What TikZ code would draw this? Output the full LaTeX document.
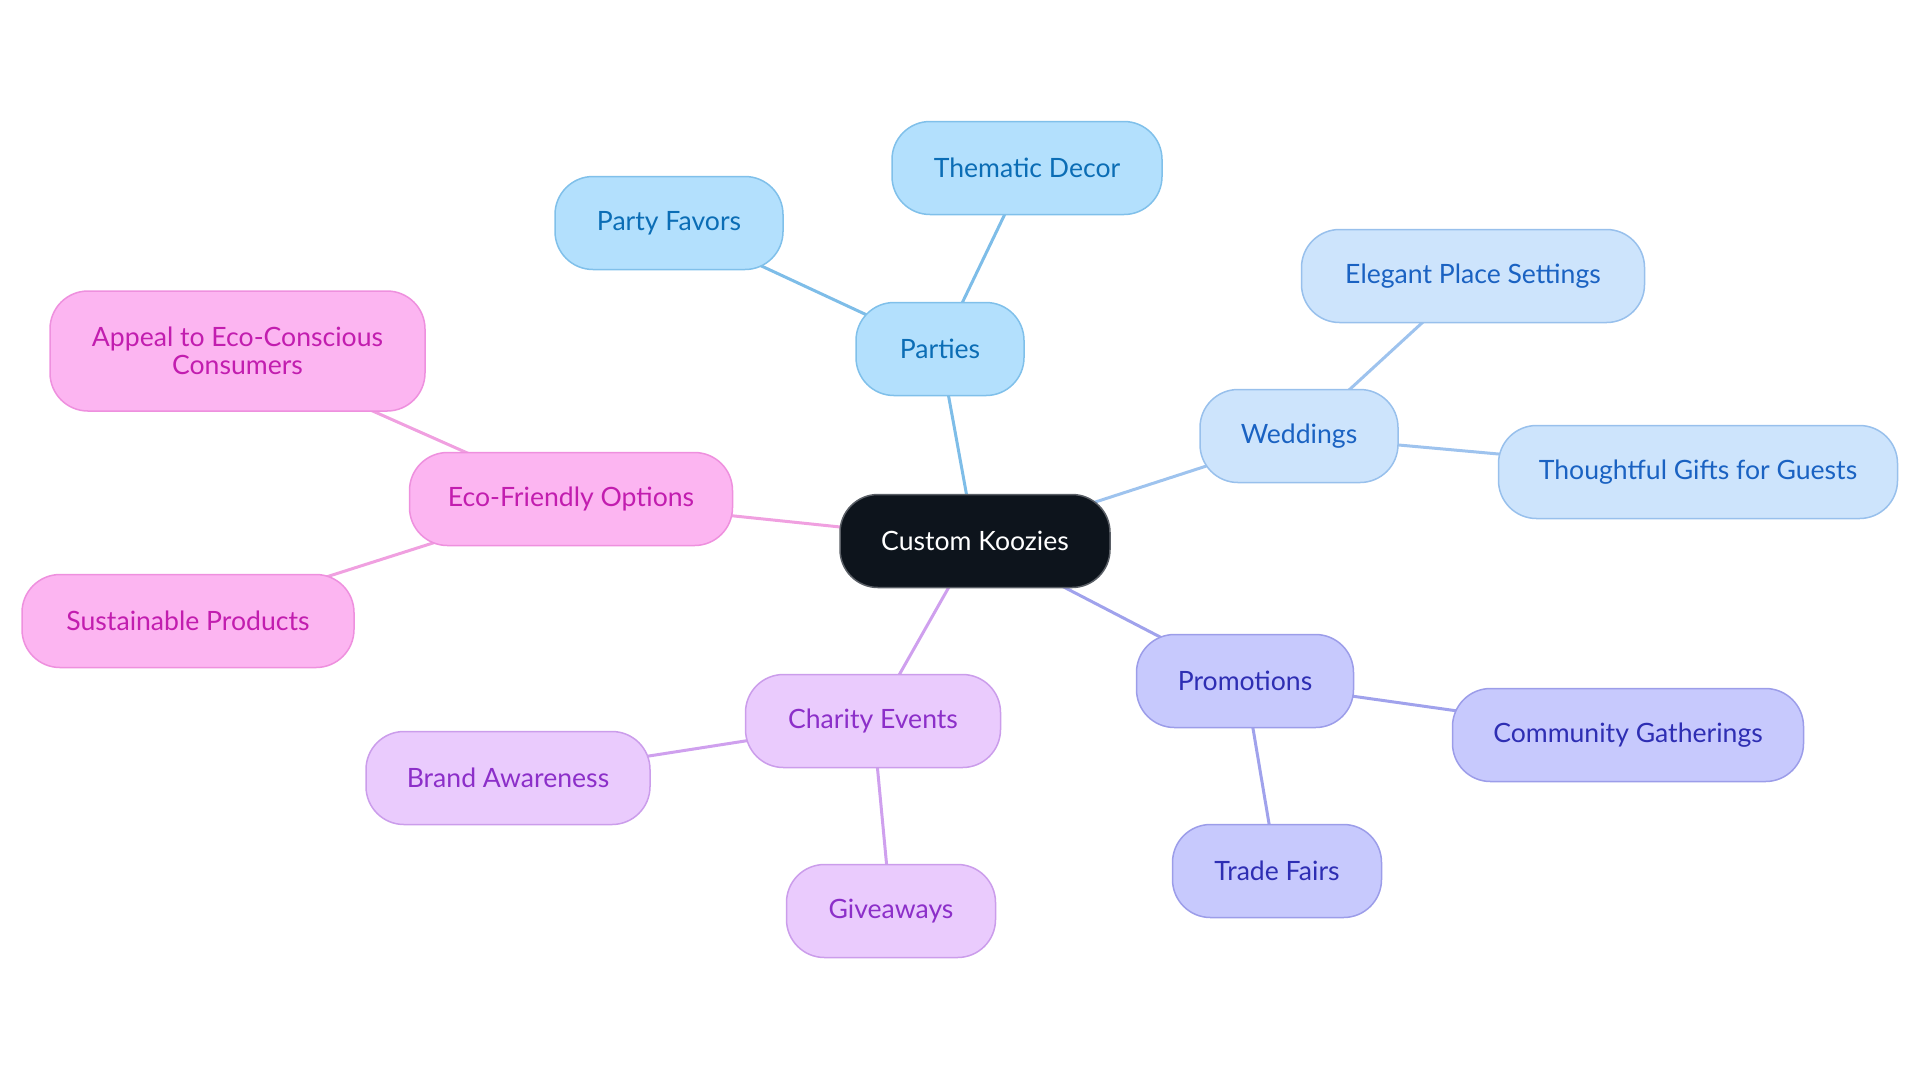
\documentclass[tikz,border=0pt]{standalone}
\usepackage{fontspec}
\setmainfont{Lato}
\usetikzlibrary{backgrounds}
\definecolor{rootfill}{HTML}{0D141C}
\definecolor{rootdraw}{HTML}{5A5F66}
\definecolor{pfill}{HTML}{B3E0FD}\definecolor{pdraw}{HTML}{80C0EA}\definecolor{ptext}{HTML}{0B6DB5}\definecolor{pline}{HTML}{7EBDE8}
\definecolor{wfill}{HTML}{CDE4FC}\definecolor{wdraw}{HTML}{98C0EC}\definecolor{wtext}{HTML}{1A62C2}\definecolor{wline}{HTML}{9EC3EE}
\definecolor{mfill}{HTML}{C7C9FD}\definecolor{mdraw}{HTML}{9C9DE9}\definecolor{mtext}{HTML}{2E2EB3}\definecolor{mline}{HTML}{A0A2EC}
\definecolor{cfill}{HTML}{EACBFD}\definecolor{cdraw}{HTML}{CB9DEB}\definecolor{ctext}{HTML}{8C2FC9}\definecolor{cline}{HTML}{CFA0EE}
\definecolor{efill}{HTML}{FCB5F1}\definecolor{edraw}{HTML}{EE90DE}\definecolor{etext}{HTML}{C21DAF}\definecolor{eline}{HTML}{F0A0E0}
\tikzset{
  box/.style={rounded corners=19pt, minimum height=46.5pt, line width=0.75pt, align=center, font=\fontsize{13.3}{13.8}\selectfont, inner sep=0pt},
  rootbox/.style={box, fill=rootfill, draw=rootdraw, text=white},
  pbox/.style={box, fill=pfill, draw=pdraw, text=ptext},
  wbox/.style={box, fill=wfill, draw=wdraw, text=wtext},
  mbox/.style={box, fill=mfill, draw=mdraw, text=mtext},
  cbox/.style={box, fill=cfill, draw=cdraw, text=ctext},
  ebox/.style={box, fill=efill, draw=edraw, text=etext},
  link/.style={line width=1.5pt}
}
\begin{document}
\begin{tikzpicture}[x=0.5pt,y=-0.5pt]
\useasboundingbox (0,0) rectangle (1920,1083);
\node[rootbox, minimum width=135pt] (root) at (975,541) {Custom Koozies};
\node[pbox, minimum width=84pt] (parties) at (940,349) {Parties};
\node[pbox, minimum width=135pt] (thematic) at (1027,168) {Thematic Decor};
\node[pbox, minimum width=114pt] (favors) at (669,223) {Party Favors};
\node[wbox, minimum width=99pt] (weddings) at (1299,436) {Weddings};
\node[wbox, minimum width=171.5pt] (elegant) at (1473,276) {Elegant Place Settings};
\node[wbox, minimum width=199.5pt] (gifts) at (1698,472) {Thoughtful Gifts for Guests};
\node[mbox, minimum width=108.5pt] (promo) at (1245,681) {Promotions};
\node[mbox, minimum width=175.5pt] (community) at (1628,735) {Community Gatherings};
\node[mbox, minimum width=104.5pt] (trade) at (1277,871) {Trade Fairs};
\node[cbox, minimum width=127.5pt] (charity) at (873,721) {Charity Events};
\node[cbox, minimum width=142pt] (brand) at (508,778) {Brand Awareness};
\node[cbox, minimum width=104.5pt] (give) at (891,911) {Giveaways};
\node[ebox, minimum width=161.5pt] (eco) at (571,499) {Eco-Friendly Options};
\node[ebox, minimum width=187.5pt, minimum height=60pt] (appeal) at (237.5,351) {Appeal to Eco-Conscious\\Consumers};
\node[ebox, minimum width=166pt] (sust) at (188,621) {Sustainable Products};
\begin{scope}[on background layer]
\draw[link, pline] (root.center) -- (parties.center);
\draw[link, pline] (parties.center) -- (thematic.center);
\draw[link, pline] (parties.center) -- (favors.center);
\draw[link, wline] (root.center) -- (weddings.center);
\draw[link, wline] (weddings.center) -- (elegant.center);
\draw[link, wline] (weddings.center) -- (gifts.center);
\draw[link, mline] (root.center) -- (promo.center);
\draw[link, mline] (promo.center) -- (community.center);
\draw[link, mline] (promo.center) -- (trade.center);
\draw[link, cline] (root.center) -- (charity.center);
\draw[link, cline] (charity.center) -- (brand.center);
\draw[link, cline] (charity.center) -- (give.center);
\draw[link, eline] (root.center) -- (eco.center);
\draw[link, eline] (eco.center) -- (appeal.center);
\draw[link, eline] (eco.center) -- (sust.center);
\end{scope}
\end{tikzpicture}
\end{document}
